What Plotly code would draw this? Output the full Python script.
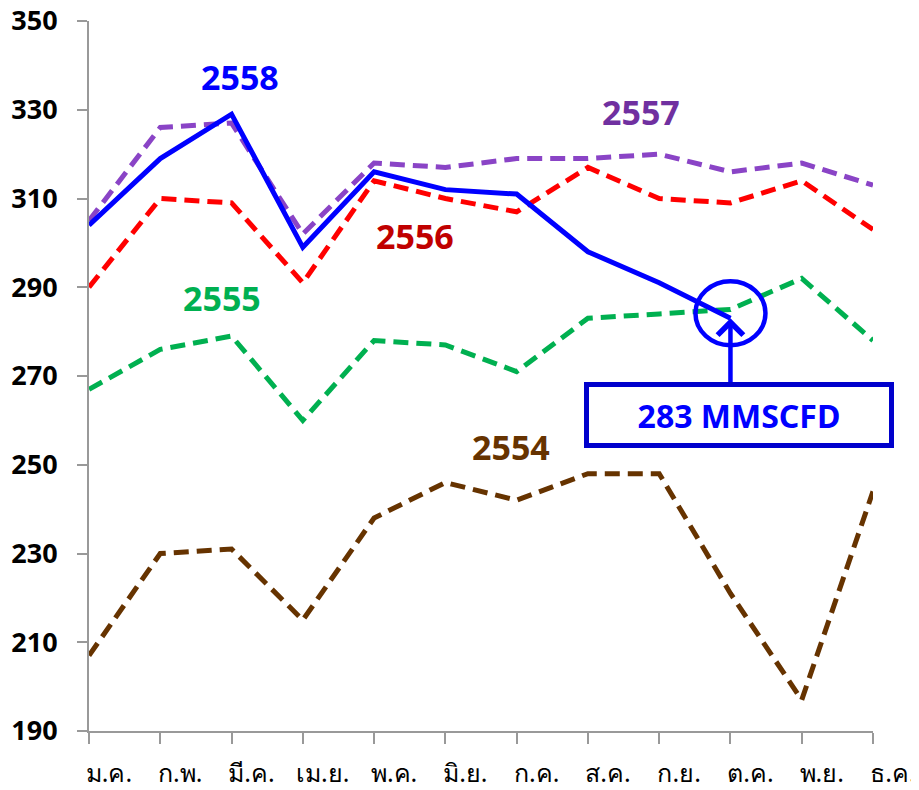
import plotly.graph_objects as go

months = ["ม.ค.", "ก.พ.", "มี.ค.", "เม.ย.", "พ.ค.", "มิ.ย.", "ก.ค.", "ส.ค.", "ก.ย.", "ต.ค.", "พ.ย.", "ธ.ค."]
y2554 = [207, 230, 231, 215, 238, 246, 242, 248, 248, 221, 197, 244]
y2555 = [267, 276, 279, 260, 278, 277, 271, 283, 284, 285, 292, 278]
y2556 = [290, 310, 309, 291, 314, 310, 307, 317, 310, 309, 314, 303]
y2557 = [305, 326, 327, 302, 318, 317, 319, 319, 320, 316, 318, 313]
y2558 = [304, 319, 329, 299, 316, 312, 311, 298, 291, 283]
yticks = [190, 210, 230, 250, 270, 290, 310, 330, 350]
callout_text = "283 MMSCFD"

DASH = "15px,8px"
fig = go.Figure()
series = [
    ("2554", y2554, "#663300", DASH),
    ("2555", y2555, "#00B050", DASH),
    ("2556", y2556, "#FF0000", DASH),
    ("2557", y2557, "#8A44C6", DASH),
    ("2558", y2558, "#0000FF", "solid"),
]
for name, vals, col, dash in series:
    fig.add_trace(go.Scatter(
        x=months[:len(vals)], y=vals, mode="lines", name=name,
        line=dict(color=col, width=5, dash=dash), hoverinfo="x+y+name"))

# year labels
labels = [
    ("2558", "#0000FF", "ก.พ.", 337.4, 80),
    ("2557", "#7030A0", "ส.ค.", 329.5, 53),
    ("2556", "#C00000", "พ.ค.", 301.5, 41),
    ("2555", "#00B050", "ก.พ.", 287.5, 62),
    ("2554", "#663300", "ก.ค.", 254.0, -6),
]
for txt, col, xcat, yv, xs in labels:
    fig.add_annotation(x=xcat, y=yv, xref="x", yref="y", text="<b>%s</b>" % txt,
                       showarrow=False, xshift=xs,
                       font=dict(family="Noto Sans", size=34, color=col))

# callout at last 2558 point
last_cat = months[len(y2558) - 1]
last_val = y2558[-1]
fig.add_annotation(x=last_cat, y=last_val, xref="x", yref="y", text="",
                   showarrow=True, arrowhead=4, arrowsize=1.1, arrowwidth=4.5,
                   arrowcolor="#0000FF", ax=0, ay=66, standoff=0)
fig.add_annotation(x=last_cat, y=last_val, xref="x", yref="y",
                   text="<b>%s</b>" % callout_text, showarrow=False,
                   xshift=9, yshift=-97, width=294, height=50,
                   bordercolor="#0000CC", borderwidth=5, borderpad=3,
                   bgcolor="white",
                   font=dict(family="Noto Sans", size=32, color="#0000FF"))
fig.add_shape(type="circle", xref="x", yref="y", xsizemode="pixel", ysizemode="pixel",
              xanchor=last_cat, yanchor=last_val, x0=-35, x1=35, y0=-27, y1=37,
              line=dict(color="#0000FF", width=4.5))

fig.update_layout(
    width=919, height=782,
    margin=dict(l=81, r=54, t=13, b=59),
    plot_bgcolor="white", paper_bgcolor="white",
    showlegend=False,
)
fig.update_xaxes(
    type="category", range=[0, 11], showgrid=False, zeroline=False,
    showline=True, linecolor="#999999", linewidth=2, automargin=False,
    ticks="outside", ticklen=11, tickwidth=2, tickcolor="#999999",
    tickfont=dict(family="Noto Sans, Tahoma, sans-serif", size=25, color="black"),
    ticklabelshift=20, ticklabelstandoff=8, ticklabeloverflow="allow",
)
fig.update_yaxes(
    range=[190, 350], tickvals=yticks, showgrid=False, zeroline=False,
    showline=True, linecolor="#999999", linewidth=2, automargin=False,
    ticks="outside", ticklen=10, tickwidth=2, tickcolor="#999999",
    tickfont=dict(family="Noto Sans", size=27, color="black", weight="bold"),
    ticklabelstandoff=14, ticklabeloverflow="allow",
)
fig.write_html("out.html")
